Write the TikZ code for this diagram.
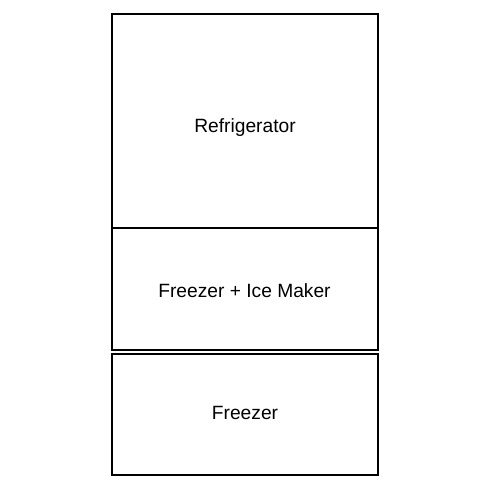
\documentclass[tikz,border=0pt]{standalone}
\usepackage{fontspec}
\setmainfont{Liberation Sans}
\begin{document}
\begin{tikzpicture}[x=1pt,y=-1pt,
  box/.style={draw=black,line width=2pt},
  lbl/.style={font=\fontsize{19.2}{23}\selectfont,inner sep=0pt}]
\useasboundingbox (0,0) rectangle (490,490);
\fill[white] (0,0) rectangle (490,490);
\draw[box] (112,14) rectangle (378,228);
\draw[box] (112,228) rectangle (378,350);
\draw[box] (112,354) rectangle (378,475);
\node[lbl] (fridge) at (245,128) {Refrigerator};
\node[lbl] (ice) at (244.5,291) {Freezer + Ice Maker};
\node[lbl] (frz) at (245,413) {Freezer};
\end{tikzpicture}
\end{document}
